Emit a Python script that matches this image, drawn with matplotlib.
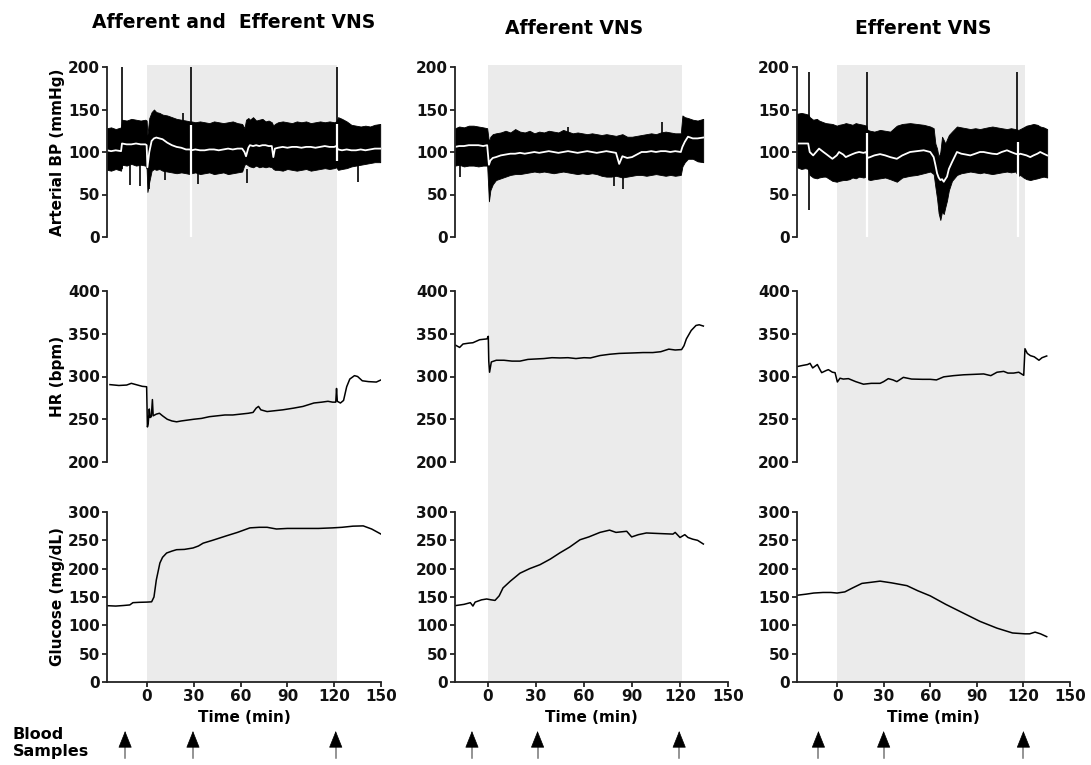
import numpy as np
import matplotlib
matplotlib.use('Agg')
from matplotlib import pyplot as plt
from matplotlib import transforms

plt.rcParams['font.family'] = 'DejaVu Sans'
plt.rcParams['font.weight'] = 'bold'

titles = ['Afferent and  Efferent VNS', 'Afferent VNS', 'Efferent VNS']
x_left = [-25.6, -20.6, -25.8]
stim_on = 0
stim_off = [122, 121.2, 121]
sample_times = [[-14, 29.5, 121], [-10, 31, 119.5], [-12, 30, 120]]

# ---- arterial BP: upper/lower envelope of pulse + mean (white) ----
bp1_t = [-25.5, -23, -20, -16.6, -16.0, -13, -10, -7, -4, -1, -0.2,
         0.3, 1.5, 3, 4.5, 6, 8, 10, 13, 16, 19, 22, 25, 27.5,
         28.5, 31, 34, 37, 40, 43, 46, 49, 52, 55, 58, 61, 62.5, 63.5, 65,
         66, 68, 70, 72, 74, 76, 78, 80, 81, 82,
         84, 87, 90, 93, 96, 99, 102, 105, 108, 111, 114, 117, 120, 121.3,
         122.5, 125, 128, 131, 134, 137, 140, 143, 146, 149.5]
bp1_up = [128, 129, 127, 129, 138, 137, 139, 138, 137, 138, 137,
          120, 140, 147, 150, 147, 146, 144, 143, 141, 139, 138, 137, 136,
          136, 135, 136, 135, 134, 136, 135, 134, 135, 136, 134, 133, 128, 138, 140,
          138, 141, 137, 138, 139, 136, 137, 135, 131, 133,
          135, 136, 135, 134, 136, 135, 136, 134, 135, 136, 135, 136, 135, 136,
          141, 139, 136, 132, 131, 130, 131, 130, 132, 133]
bp1_lo = [79, 78, 80, 78, 85, 84, 86, 84, 85, 84, 80,
          53, 65, 78, 80, 79, 80, 78, 77, 76, 75, 76, 75, 74,
          75, 76, 74, 75, 76, 74, 75, 76, 74, 75, 76, 77, 85, 86, 84,
          83, 82, 84, 82, 83, 82, 83, 82, 80, 79,
          79, 78, 80, 79, 78, 79, 80, 78, 79, 80, 81, 80, 81, 82,
          79, 80, 81, 83, 84, 85, 86, 87, 88, 88]
bp1_mean = [102, 101, 102, 101, 110, 109, 109, 110, 109, 109, 108,
            82, 100, 113, 116, 117, 116, 115, 111, 108, 106, 105, 103, 103,
            102, 103, 102, 102, 103, 103, 102, 103, 104, 103, 104, 104, 100, 95, 105,
            108, 107, 108, 107, 108, 108, 107, 107, 94, 104,
            105, 106, 105, 106, 106, 105, 106, 106, 105, 106, 107, 106, 106, 107,
            103, 102, 103, 102, 102, 103, 102, 103, 104, 104]

bp2_t = [-20.5, -18, -15, -12, -9, -6, -3, -0.5,
         0.6, 1.5, 3, 5, 8, 11, 14, 17, 20, 23, 26, 29, 32, 35, 38, 41, 44, 47, 50,
         53, 56, 59, 62, 65, 68, 71, 74, 77, 80, 82, 84, 87, 90, 93, 96, 99, 102,
         105, 108, 111, 114, 117, 120.5,
         121.5, 123, 125, 128, 131, 134.5]
bp2_up = [128, 130, 129, 131, 131, 130, 129, 128,
          112, 118, 121, 122, 123, 125, 123, 127, 124, 123, 125, 122, 124, 123, 125, 124, 123, 126, 124,
          122, 123, 122, 121, 122, 121, 120, 121, 120, 119, 120, 121, 118, 118, 119, 120, 121, 122,
          121, 123, 124, 123, 122, 122,
          143, 141, 140, 138, 137, 139]
bp2_lo = [84, 85, 83, 84, 84, 83, 84, 84,
          42, 55, 62, 67, 69, 71, 73, 74, 74, 75, 76, 77, 76, 77, 76, 75, 76, 77, 76,
          75, 74, 75, 74, 75, 74, 72, 71, 71, 72, 71, 70, 71, 72, 73, 73, 72, 73,
          74, 73, 72, 73, 72, 73,
          83, 88, 92, 92, 89, 88]
bp2_mean = [106, 107, 107, 108, 108, 108, 107, 108,
            85, 90, 93, 94, 96, 97, 98, 98, 99, 98, 99, 100, 99, 100, 101, 100, 99, 100, 101,
            100, 99, 100, 101, 100, 99, 100, 101, 100, 99, 86, 95, 93, 94, 97, 100, 100, 101,
            100, 101, 101, 100, 101, 100,
            106, 112, 118, 116, 116, 117]

bp3_t = [-25.8, -23, -20.5, -18.6,
         -17.6, -15.4, -13, -11.6, -8.8, -7.3, -3, -0.2, 1.3, 4, 5.6, 8, 9.9, 12, 14.2, 17, 18.8,
         19.6, 21.3, 24, 27.7, 31, 34.2, 38.5, 42, 47, 51.4, 55.8, 60, 62.2,
         63.3, 64.4, 65.4, 66.5, 67.6, 68.7, 69.7, 70.8, 72, 74,
         77.2, 80, 83, 85.8, 89, 92, 94.4, 97, 100, 103, 106, 109.4, 112, 114.8,
         116.8, 117.9, 120, 122, 124.4, 126.5, 129, 130.8, 133, 135.3]
bp3_up = [145, 146, 145, 144,
          141, 138, 139, 137, 135, 134, 133, 131, 132, 133, 134, 133, 132, 134, 133, 132, 131,
          126, 125, 124, 126, 125, 124, 131, 133, 134, 133, 132, 130, 128,
          110, 104, 94, 100, 118, 114, 110, 115, 120, 124,
          130, 129, 128, 127, 128, 127, 128, 129, 130, 129, 128, 127, 128, 127,
          126, 127, 129, 131, 132, 133, 132, 130, 129, 127]
bp3_lo = [82, 80, 81, 80,
          73, 70, 69, 70, 71, 71, 66, 65, 66, 67, 67, 68, 70, 69, 71, 70, 71,
          68, 67, 68, 69, 70, 68, 65, 70, 72, 73, 75, 77, 74,
          59, 45, 28, 20, 30, 27, 35, 43, 55, 66,
          73, 75, 76, 77, 76, 75, 76, 75, 74, 75, 76, 77, 76, 77,
          72, 73, 70, 68, 67, 68, 69, 70, 71, 70]
bp3_mean = [110, 110, 110, 110,
            100, 96, 101, 104, 100, 98, 92, 96, 100, 97, 94, 96, 97.5, 99, 100, 99, 100,
            93, 94, 96, 97.5, 96, 94, 92, 96, 100, 101, 102, 100, 94,
            85, 75, 70, 67, 68, 65, 68, 71, 80, 88,
            100, 98, 97, 96, 98, 100, 100, 99, 98, 97.5, 100, 102, 100, 98,
            97, 98, 97, 96, 94, 96, 98, 100, 98, 96]

# artefact spikes (black) and flush gaps (white): time, from, to
spk1_t = [-16.2, 28.0, 121.8, -11, -4.5, 1.0, 11.5, 23, 33, 64, 135]
spk1_lo = [80, 130, 130, 61, 60, 56, 67, 120, 62, 63, 65]
spk1_hi = [200, 200, 200, 85, 85, 80, 80, 146, 76, 80, 88]
wht1_t = [28.0, 121.9]
wht1_lo = [0, 90]
wht1_hi = [132, 133]

spk2_t = [-17.7, 79, 84.5, 50.2, 109]
spk2_lo = [71, 60, 57, 115, 118]
spk2_hi = [85, 74, 72, 130, 135]
wht2_t = []
wht2_lo = []
wht2_hi = []

spk3_t = [-18.3, 19.1, 116.1]
spk3_lo = [32, 125, 125]
spk3_hi = [194, 194, 194]
wht3_t = [19.3, 116.3]
wht3_lo = [0, 0]
wht3_hi = [122, 112]

# ---- heart rate ----
hr1_t = [-23.7, -18, -13, -10, -7, -3, -0.2, 0.3, 0.8, 1.5, 2.0, 2.8, 3.5, 4.0, 6, 8, 10,
         13, 16, 19, 22, 26, 30, 35, 40, 45, 50, 55, 60, 65, 68, 70, 71.5, 73, 77, 82, 87,
         94, 100, 107, 112, 116, 119, 121, 121.5, 122, 124, 126, 128, 130, 133, 135, 138,
         142, 147, 150]
hr1 = [290.5, 289.5, 290, 292, 290.5, 288.5, 288, 241, 245, 262, 252, 253, 273, 254, 256, 257, 254,
       250, 248, 247, 248, 249, 250, 251, 253, 254, 255, 255, 256, 257, 258, 263, 265, 261, 259, 260, 261,
       263, 265, 269, 270, 271, 270, 270, 286, 271, 269, 272, 288, 297, 301, 300, 295,
       294, 293.5, 296]

hr2_t = [-20.6, -17.7, -15.6, -12, -9.4, -5.2, -0.6, 0.2, 0.5, 1.0, 2.1, 5.2, 10, 15, 20, 25,
         30, 35, 40, 45, 50, 55, 60, 64, 70, 76, 82, 90, 97, 103, 108, 113, 117, 121, 122.5,
         124, 127, 130, 132, 134.6]
hr2 = [337, 334, 338, 339, 339.5, 343, 344, 347, 318, 305, 317, 319, 319, 318, 318, 320,
       320.5, 321, 322, 321.7, 322, 321, 322, 321.7, 324.5, 326, 327, 327.5, 328, 328, 329, 332, 331,
       331.5, 336, 344, 353.8, 359.7, 360.5, 359]

hr3_t = [-26, -22, -19, -17.4, -15.7, -12.7, -11, -9.9, -7, -5.6, -3, -1.3, 0.2, 1.9, 4, 7.3,
         12, 17, 22, 27.7, 30, 33, 36, 38.5, 42.7, 48, 55, 60, 64, 68.7, 75, 81.5, 88, 94.4,
         99, 103, 107.3, 110, 113.7, 117, 120.2, 121, 122.5, 124.5, 127, 130, 132, 135]
hr3 = [311.5, 313, 314, 315.4, 310, 314, 308, 304.5, 307, 308, 305, 304.5, 293.6, 298, 297, 297.5,
       294, 291, 292, 292, 294, 297.5, 296, 294, 299, 297, 296.7, 296.7, 296, 299.6, 301, 302, 302.5, 303,
       301, 305, 306, 304, 304, 305, 301.4, 332.5, 327, 324.4, 323, 319, 322, 324]

# ---- glucose ----
glu1_t = [-25.6, -20, -15, -11, -9, -5, 0, 3, 4.5, 6, 8.3, 10, 12.6, 16, 19, 24, 29.5, 33, 36,
          42, 51, 58, 66, 72, 77, 83, 90, 100, 110, 119, 125, 132, 138.6, 144, 150]
glu1 = [134.7, 134, 135, 136, 140, 140.6, 141, 141.5, 150, 180, 210, 220, 227.6, 231, 233.5, 234,
        236.5, 240, 245, 250, 258, 264, 272, 273, 273, 270, 271, 271, 271, 272, 273, 275, 275.5, 270, 261]

glu2_t = [-20.6, -15, -11, -9.4, -8, -4, -0.8, 2, 4.4, 7, 9.4, 14, 20, 26, 32.5, 39, 45, 51,
          57.5, 63, 70, 76, 80, 86.7, 89.8, 94, 99, 107, 115.6, 117, 120, 123, 125, 128, 131, 134.6]
glu2 = [134.7, 137, 140, 134, 141, 145, 146.5, 145, 144, 152, 166, 178, 192, 200, 207, 217, 228, 238,
        251, 256, 264, 268, 264, 266, 256, 260, 263, 262, 261, 264, 255, 260, 255, 252, 250, 243.5]

glu3_t = [-26, -20, -15, -9, -4, 0, 5, 10, 16, 22, 27.7, 35, 45, 52, 60, 70, 81, 92, 103, 113,
          121, 124, 127.5, 131, 135]
glu3 = [153, 155, 157, 158, 158, 157, 159, 166, 174, 176, 178, 175, 170, 161, 152, 137, 122, 107,
        95, 86.5, 85, 85, 88, 85, 80]

bp = [(bp1_t, bp1_up, bp1_lo, bp1_mean), (bp2_t, bp2_up, bp2_lo, bp2_mean), (bp3_t, bp3_up, bp3_lo, bp3_mean)]
spikes = [(spk1_t, spk1_lo, spk1_hi), (spk2_t, spk2_lo, spk2_hi), (spk3_t, spk3_lo, spk3_hi)]
whites = [(wht1_t, wht1_lo, wht1_hi), (wht2_t, wht2_lo, wht2_hi), (wht3_t, wht3_lo, wht3_hi)]
hr = [(hr1_t, hr1), (hr2_t, hr2), (hr3_t, hr3)]
glu = [(glu1_t, glu1), (glu2_t, glu2), (glu3_t, glu3)]

W, H = 1091, 765
fig = plt.figure(figsize=(W / 100, H / 100), dpi=100)

col_left = [107, 455, 797]
col_width = [274, 273, 273]
title_x = [234, 574, 923]
title_y = [22, 28, 29]


def rect(x0, top, w, bottom):
    return [x0 / W, (H - bottom) / H, w / W, (bottom - top) / H]


def style(ax, ylim, yticks):
    ax.set_facecolor('none')
    ax.set_ylim(*ylim)
    ax.set_yticks(yticks)
    for s in ['top', 'right']:
        ax.spines[s].set_visible(False)
    ax.spines['left'].set_linewidth(1.3)
    ax.spines['left'].set_color('#222222')
    ax.spines['bottom'].set_linewidth(1.3)
    ax.spines['bottom'].set_color('#222222')
    ax.tick_params(axis='both', direction='out', length=3.5, width=1.2, labelsize=11,
                   pad=1.5, colors='#111111')


for c in range(3):
    x0, w = col_left[c], col_width[c]
    xlim = (x_left[c], 150)

    # continuous shaded stimulation band behind all three panels
    bg = fig.add_axes(rect(x0, 65, w, 682))
    bg.set_xlim(*xlim)
    bg.axvspan(stim_on, stim_off[c], color='#ebebeb', lw=0)
    bg.axis('off')

    # arterial BP
    ax = fig.add_axes(rect(x0, 67, w, 237))
    t, up, lo, mn = bp[c]
    ax.fill_between(t, lo, up, color='black', lw=0.6, edgecolor='black')
    st, slo, shi = spikes[c]
    ax.vlines(st, slo, shi, color='black', lw=1.2)
    ax.plot(t, mn, color='white', lw=1.3)
    wt, wlo, whi = whites[c]
    ax.vlines(wt, wlo, whi, color='white', lw=1.6)
    style(ax, (0, 200), [0, 50, 100, 150, 200])
    ax.set_xlim(*xlim)
    ax.spines['bottom'].set_visible(False)
    ax.set_xticks([])
    if c == 0:
        ax.set_ylabel('Arterial BP (mmHg)', fontsize=11, fontweight='bold')
        ax.yaxis.set_label_coords(-0.155, 0.5)

    # heart rate
    ax = fig.add_axes(rect(x0, 291, w, 462))
    ax.plot(*hr[c], color='black', lw=1.1)
    style(ax, (200, 400), [200, 250, 300, 350, 400])
    ax.set_xlim(*xlim)
    ax.spines['bottom'].set_visible(False)
    ax.set_xticks([])
    if c == 0:
        ax.set_ylabel('HR (bpm)', fontsize=11, fontweight='bold')
        ax.yaxis.set_label_coords(-0.155, 0.5)

    # glucose
    ax = fig.add_axes(rect(x0, 512, w, 682))
    ax.plot(*glu[c], color='black', lw=1.1)
    style(ax, (0, 300), [0, 50, 100, 150, 200, 250, 300])
    ax.set_xlim(*xlim)
    ax.set_xticks([0, 30, 60, 90, 120, 150])
    ax.set_xlabel('Time (min)', fontsize=11, fontweight='bold', labelpad=4)
    if c == 0:
        ax.set_ylabel('Glucose (mg/dL)', fontsize=11, fontweight='bold')
        ax.yaxis.set_label_coords(-0.155, 0.5)

    # blood sample arrows
    trans = transforms.blended_transform_factory(ax.transData, fig.transFigure)
    tip, base, tail = (H - 731) / H, (H - 744) / H, (H - 758) / H
    for ts in sample_times[c]:
        ax.plot([ts, ts], [tail, base + 0.002], color='#777777', lw=1.1,
                transform=trans, clip_on=False)
        ax.annotate('', xy=(ts, tip), xytext=(ts, base), xycoords=trans, textcoords=trans,
                    arrowprops=dict(arrowstyle='-|>,head_length=0.55,head_width=0.22',
                                    mutation_scale=20, color='black', lw=0.5,
                                    shrinkA=0, shrinkB=0), annotation_clip=False)

    fig.text(title_x[c] / W, 1 - title_y[c] / H, titles[c], ha='center', va='center',
             fontsize=13.5, fontweight='bold')

fig.text(13 / W, 1 - 743 / H, 'Blood\nSamples', ha='left', va='center', fontsize=11.5,
         fontweight='bold', linespacing=1.15)

fig.savefig('out.png', dpi=100)
